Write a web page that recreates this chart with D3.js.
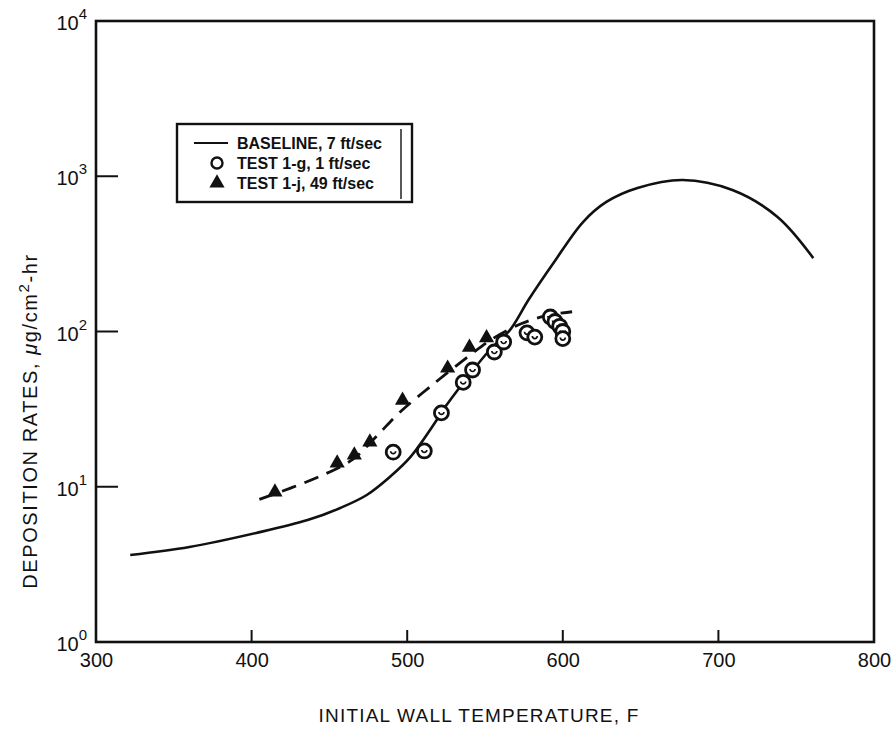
<!DOCTYPE html>
<html>
<head>
<meta charset="utf-8">
<script src="https://cdn.jsdelivr.net/npm/d3@7"></script>
<style>
  html, body { margin: 0; padding: 0; background: #fff; }
  svg { display: block; font-family: "Liberation Sans", Arial, sans-serif; }
</style>
</head>
<body>
<svg id="chart"></svg>
<script>
// baseline curve, 7 ft/sec
const baseTemp = [322, 360, 403, 436, 457, 474, 489, 502, 519, 523, 553, 566, 578, 594, 613, 628, 648, 677, 709, 738, 761]
const baseRate = [3.63, 4.09, 5.04, 6.1, 7.3, 8.85, 11.6, 15.5, 26.9, 31.2, 76, 102, 160, 276, 507, 683, 840, 946, 815, 547, 297]

// dashed fit through the 49 ft/sec test
const fitTemp = [405, 425, 445, 465, 480, 495, 517, 540, 555, 574, 590, 606]
const fitRate = [8.3, 9.8, 11.8, 15, 21, 30, 46, 70, 90, 113, 127, 134]

// TEST 1-g, 1 ft/sec (open circles)
const gTemp = [491, 511, 522, 536, 542, 556, 562, 577, 582, 592, 595, 598, 600, 600]
const gRate = [16.7, 17.0, 29.9, 47, 56.5, 73.8, 85.6, 98, 92, 124, 116, 108, 100, 90]

// TEST 1-j, 49 ft/sec (filled triangles)
const jTemp = [415, 455, 466, 476, 497, 526, 540, 551]
const jRate = [9.25, 14.2, 16.0, 19.4, 36, 58, 79, 91]

const xTicks = [300, 400, 500, 600, 700, 800]
const yExps = [0, 1, 2, 3, 4]

const legendLabels = ["BASELINE, 7 ft/sec", "TEST 1-g, 1 ft/sec", "TEST 1-j, 49 ft/sec"]

const width = 891
const height = 729
const margin = { left: 96, right: 17, top: 21, bottom: 87 }

const svg = d3.select('#chart')
    .attr('width', width)
    .attr('height', height)

const x = d3.scaleLinear()
    .domain([300, 800])
    .range([margin.left, width - margin.right])

const y = d3.scaleLog()
    .domain([1, 1e4])
    .range([height - margin.bottom, margin.top])

const ink = '#111'

// frame
svg.append('rect')
    .attr('x', x(300))
    .attr('y', y(1e4))
    .attr('width', x(800) - x(300))
    .attr('height', y(1) - y(1e4))
    .attr('fill', 'none')
    .attr('stroke', ink)
    .attr('stroke-width', 2.6)

// bottom axis: inward ticks, labels below
const xAxis = d3.axisBottom(x)
    .tickValues(xTicks)
    .tickSize(0)
    .tickPadding(11)
    .tickFormat(d3.format('d'))

const gx = svg.append('g')
    .attr('transform', `translate(0,${y(1)})`)
    .call(xAxis)
gx.select('.domain').remove()
gx.selectAll('text')
    .attr('font-size', 20)
    .attr('font-family', '"Liberation Sans", Arial, sans-serif')
    .attr('fill', ink)

svg.append('g')
    .selectAll('line')
    .data(xTicks.slice(1, -1))
    .join('line')
    .attr('x1', d => x(d))
    .attr('x2', d => x(d))
    .attr('y1', y(1))
    .attr('y2', y(1) - 12)
    .attr('stroke', ink)
    .attr('stroke-width', 2)

// left axis: powers of ten
svg.append('g')
    .selectAll('line')
    .data(yExps.slice(1, -1))
    .join('line')
    .attr('x1', x(300))
    .attr('x2', x(300) + 22)
    .attr('y1', d => y(Math.pow(10, d)))
    .attr('y2', d => y(Math.pow(10, d)))
    .attr('stroke', ink)
    .attr('stroke-width', 2)

const yLab = svg.append('g')
    .selectAll('text')
    .data(yExps)
    .join('text')
    .attr('x', x(300) - 9)
    .attr('y', d => y(Math.pow(10, d)) + 9)
    .attr('text-anchor', 'end')
    .attr('font-size', 20)
    .attr('fill', ink)
yLab.append('tspan').text('10')
yLab.append('tspan')
    .attr('dy', -11)
    .attr('font-size', 15)
    .text(d => d)

// axis titles
svg.append('text')
    .attr('x', (x(300) + x(800)) / 2 - 6)
    .attr('y', 722)
    .attr('text-anchor', 'middle')
    .attr('font-size', 19)
    .attr('letter-spacing', 1.2)
    .attr('fill', ink)
    .text('INITIAL WALL TEMPERATURE, F')

const yTitle = svg.append('text')
    .attr('transform', 'translate(37,421) rotate(-90)')
    .attr('text-anchor', 'middle')
    .attr('font-size', 20)
    .attr('letter-spacing', 1.6)
    .attr('fill', ink)
yTitle.append('tspan').text('DEPOSITION RATES, ')
yTitle.append('tspan').attr('font-style', 'italic').text('μ')
yTitle.append('tspan').text('g/cm')
yTitle.append('tspan').attr('dy', -8).attr('font-size', 15).text('2')
yTitle.append('tspan').attr('dy', 8).text('-hr')

// curves
const line = d3.line()
    .x(d => x(d[0]))
    .y(d => y(d[1]))
    .curve(d3.curveCatmullRom.alpha(0.5))

svg.append('path')
    .datum(d3.zip(baseTemp, baseRate))
    .attr('d', line)
    .attr('fill', 'none')
    .attr('stroke', ink)
    .attr('stroke-width', 2.6)

svg.append('path')
    .datum(d3.zip(fitTemp, fitRate))
    .attr('d', line)
    .attr('fill', 'none')
    .attr('stroke', ink)
    .attr('stroke-width', 2.8)
    .attr('stroke-dasharray', '15,9')

// markers
const tri = d3.symbol().type(d3.symbolTriangle).size(100)

const circleMark = (g) => {
    g.append('circle')
        .attr('r', 7)
        .attr('fill', '#fff')
        .attr('stroke', ink)
        .attr('stroke-width', 2.8)
    g.append('path')
        .attr('d', 'M-2.5,-1 A2.5,2.5 0 0 0 2.5,-1')
        .attr('fill', 'none')
        .attr('stroke', ink)
        .attr('stroke-width', 1.7)
}

svg.append('g')
    .selectAll('g')
    .data(d3.zip(gTemp, gRate))
    .join('g')
    .attr('transform', d => `translate(${x(d[0])},${y(d[1])})`)
    .call(circleMark)

svg.append('g')
    .selectAll('path')
    .data(d3.zip(jTemp, jRate))
    .join('path')
    .attr('d', tri)
    .attr('transform', d => `translate(${x(d[0])},${y(d[1])})`)
    .attr('fill', ink)

// legend
const legend = svg.append('g')
legend.append('rect')
    .attr('x', 177)
    .attr('y', 124)
    .attr('width', 235)
    .attr('height', 78)
    .attr('fill', '#fff')
    .attr('stroke', ink)
    .attr('stroke-width', 2.4)

legend.append('line')
    .attr('x1', 401).attr('x2', 401)
    .attr('y1', 129).attr('y2', 199)
    .attr('stroke', ink)
    .attr('stroke-width', 1.4)

const rowY = [143, 163, 183]
legend.selectAll('text')
    .data(legendLabels)
    .join('text')
    .attr('x', 237)
    .attr('y', (d, i) => rowY[i] + 5.5)
    .attr('font-size', 16)
    .attr('font-weight', 'bold')
    .attr('fill', ink)
    .text(d => d)

legend.append('line')
    .attr('x1', 194).attr('x2', 228)
    .attr('y1', rowY[0]).attr('y2', rowY[0])
    .attr('stroke', ink)
    .attr('stroke-width', 2)

legend.append('circle')
    .attr('cx', 217).attr('cy', rowY[1])
    .attr('r', 5.5)
    .attr('fill', '#fff')
    .attr('stroke', ink)
    .attr('stroke-width', 2.4)

legend.append('path')
    .attr('d', tri)
    .attr('transform', `translate(217,${rowY[2]})`)
    .attr('fill', ink)
</script>
</body>
</html>
